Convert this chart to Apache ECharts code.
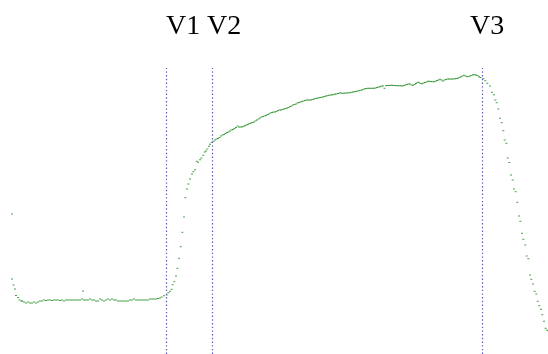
<!DOCTYPE html>
<html>
<head>
<meta charset="utf-8">
<script src="https://cdn.jsdelivr.net/npm/echarts@6/dist/echarts.min.js"></script>
<style>html,body{margin:0;padding:0;background:#fff}#c{width:548px;height:354px}</style>
</head>
<body>
<div id="c"></div>
<script>
// Sample positions (time axis) and measured signal
var xs = [12,12,13.5,15,16,18,19.5,21.5,
22,24,26,28,30,32,34,36,38,40,42,44,46,48,50,52,54,56,58,60,62,64,66,68,70,72,74,76,78,80,82,83,84,86,88,90,92,94,96,98,100,102,104,106,108,110,112,114,116,118,120,122,124,126,128,130,132,134,136,138,140,142,144,146,148,150,152,154,156,158,160,
161.7,164,166.7,168.3,170,171.7,172.7,174.3,176,177.3,179,180.7,182.3,184,185.3,187,188.3,190,192,193.3,195,196.7,198,200,201.3,203.3,204.7,206,207.3,209,210,211.7,
213.5,215,216.5,218,219.5,221,222.5,224,225.5,227,228.5,230,231.5,233,234.5,236,237.5,239,240.5,242,243.5,245,246.5,248,249.5,251,252.5,254,255.5,257,258.5,260,261.5,263,264.5,266,267.5,269,270.5,272,273.5,275,276.5,278,279.5,281,282.5,284,285.5,287,288.5,290,291.5,293,294.5,296,297.5,299,300.5,302,303.5,305,306.5,308,309.5,311,312.5,314,315.5,317,318.5,320,321.5,323,324.5,326,327.5,329,330.5,332,333.5,335,336.5,338,339.5,341,342.5,344,345.5,347,348.5,350,351.5,353,354.5,356,357.5,359,360.5,362,363.5,365,366.5,368,369.5,371,372.5,374,375.5,377,378.5,380,381.5,383,384.5,386,387.5,389,390.5,392,393.5,395,396.5,398,399.5,401,402.5,404,405.5,407,408.5,410,411.5,413,414.5,416,417.5,419,420.5,422,423.5,425,426.5,428,429.5,431,432.5,434,435.5,437,438.5,440,441.5,443,444.5,446,447.5,449,450.5,452,453.5,455,456.5,458,459.5,461,462.5,464,465.5,467,468.5,470,471.5,473,474.5,476,477.5,479,480.5,
483.3,485.3,487.3,490,492,494,495.3,496.7,498.3,500,501.7,503.3,504.7,506.3,507.7,509.3,511,512.7,514,515.7,517.3,519,520.3,522,523.3,525.3,526.7,528.3,530,531.3,533,534.7,536.3,537.7,539.3,541,542.3,544,545.7,547];
var ys = [140,75,69,65,58.5,56.5,54,53,
53,52,51,52,51,51,52,51,52,53,53,54,53.5,54,54,53.5,54,54,54,53.5,54,53,54,54,54,54,54,54,54,54,55,63,54,54,54,55,54,54,53,53,55,54,53,54,55,54,55,54,54,53,53,53,53,53,53,54,54,55,54,54,54,54,54,54,54,55,55,55,55,55.5,56,57,
58.3,59,61.3,62.7,64.7,69.3,72.3,78,85.7,95.7,107.3,121.7,137,156.3,165,170,175,180,182.3,184.3,192.7,191.7,194.3,196,198.7,202,203,205,207.7,209.7,211.7,212.7,
214,215,215.5,216.5,218,219,219.5,220.5,221.5,222,223,224,224.5,225.5,226.5,228,227,227,227,227.5,228.5,229,229.5,230.5,231,231.5,232,233,234,235,236,237,237.5,238,238.5,239.5,240,241,241.5,242,242,242.5,243.5,244,244,244.5,245,245.5,246,246.5,247.5,248,249,249.5,250,251,251.5,252,252.5,253,253.5,254,254,254,254,254.5,255,255.5,255.7,256,256.5,256.7,257,257.5,258,258.3,258.7,259,259,259.5,260,260,260.5,261,261,260.7,260.7,261,261,261.3,261.3,261.7,262,262.3,262.5,263,263.3,263.7,264,264.7,265.3,265.5,265.7,265.7,265.7,265.7,265.7,266,266.5,267,267.3,268,268,265.7,268.2,268.5,268.5,268.7,268.7,268.5,268.5,268.3,268.3,268.3,268.2,268,268.5,269,269.5,270,270,269,268.7,269.5,270.5,271.5,271.7,270.5,270.3,271,271.5,272,272.7,272.7,272.5,272.3,272.3,272.7,273.5,274,274.7,274,273,274,274.5,275,275,275,275,275,275.3,275.5,275.7,276.5,277.3,278,278.7,278,277.3,277.5,278,278.5,279.3,279.3,279,278.5,277.3,276.5,275.3,
273.3,270.7,268,261.7,259.3,254,251.3,245,235.7,231.3,223.3,214,210.7,196,191.5,179,174,165,162.3,151.7,138,132.7,120.7,114.7,109,98,95.3,79,74.7,70,62.7,60,52.7,48.3,44.7,39.3,32.7,25.7,23.7,20.3];
var markerNames = ['V1','V2','V3'];
var markerX = [166.5,212.5,482.5];

var points = xs.map(function(x,i){return [x, ys[i]];});
var chart = echarts.init(document.getElementById('c'), null, {renderer:'canvas'});
chart.setOption({
  animation:false,
  grid:{left:0,right:0,top:0,bottom:0},
  xAxis:{type:'value',min:0,max:548,show:false},
  yAxis:{type:'value',min:0,max:354,show:false},
  series:[{
    type:'scatter',
    data:points,
    symbol:'rect',
    symbolSize:[2,1],
    itemStyle:{color:'#1a8a1a',opacity:0.8},
    markLine:{
      silent:true,
      symbol:'none',
      label:{show:false},
      lineStyle:{type:[1.4,2.3],color:'#4848b0',width:1.2,opacity:0.9},
      data: markerX.map(function(x){return [{coord:[x,0]},{coord:[x,286]}];})
    }
  }],
  graphic: markerNames.map(function(n,i){
    var lx=[166,207,470][i];
    return {type:'text',left:lx,top:13,style:{text:n,font:'28px "Liberation Serif", serif',fill:'#000'}};
  })
});
</script>
</body>
</html>
